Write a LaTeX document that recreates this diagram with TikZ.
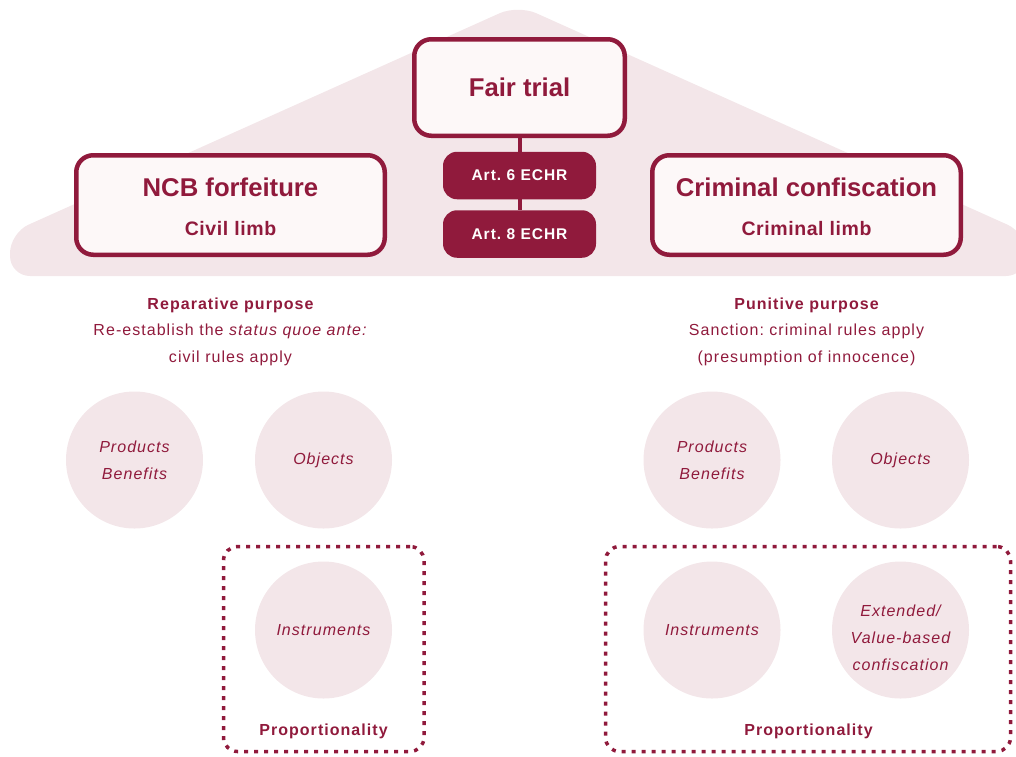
\documentclass[tikz,border=0pt]{standalone}
\usepackage{fontspec}
\setmainfont{Liberation Sans}[LetterSpace=6.5]
\newfontfamily\headfont{Liberation Sans}
\newfontfamily\limbfont{Liberation Sans}[LetterSpace=3]
\usetikzlibrary{positioning}
\frenchspacing

\definecolor{wine}{HTML}{901A3C}
\definecolor{blush}{HTML}{F3E6E9}
\definecolor{paper}{HTML}{FDF8F8}

\begin{document}
\begin{tikzpicture}[
    x=1pt,
    y=-1pt,
    limbbox/.style={
        draw=wine,
        line width=4.5pt,
        fill=paper,
        rounded corners=17pt,
        minimum width=308.5pt,
        minimum height=99.5pt
    },
    headtxt/.style={
        text=wine,
        inner sep=0pt,
        anchor=base,
        font=\headfont\bfseries\fontsize{25.7}{30}\selectfont
    },
    limbtxt/.style={
        text=wine,
        inner sep=0pt,
        anchor=base,
        font=\limbfont\bfseries\fontsize{19.5}{24}\selectfont
    },
    artbox/.style={
        fill=wine,
        rounded corners=14pt,
        minimum width=153pt,
        minimum height=47.5pt,
        text=white,
        font=\bfseries\fontsize{15.5}{18}\selectfont
    },
    purpose/.style={
        align=center,
        text=wine,
        inner sep=0pt,
        font=\fontsize{16}{26.5}\selectfont
    },
    orb/.style={
        circle,
        fill=blush,
        minimum size=137pt,
        inner sep=0pt,
        align=center,
        text=wine,
        font=\itshape\fontsize{16}{27}\selectfont
    },
    propbox/.style={
        draw=wine,
        line width=3.5pt,
        dash pattern=on 4pt off 6pt,
        rounded corners=14pt
    },
    proptxt/.style={
        text=wine,
        inner sep=0pt,
        font=\bfseries\fontsize{16}{20}\selectfont
    },
    link/.style={draw=wine, line width=4pt}
]
    \useasboundingbox (0,0) rectangle (1016,756);

    % Roof
    \fill[blush, rounded corners=20pt]
        (518,5) -- (1026,233) -- (1026,276) -- (10,276) -- (10,233) -- cycle;

    % Top of the roof
    \node[limbbox, minimum width=210.5pt, minimum height=96.5pt,
          font=\headfont\bfseries\fontsize{25.7}{30}\selectfont, text=wine]
        (fair) at (519.5,87.5) {Fair trial};
    \node[artbox] (art6) at (519.5,175.5) {Art. 6 ECHR};
    \node[artbox] (art8) at (519.5,234) {Art. 8 ECHR};

    % Civil limb
    \node[limbbox] (ncb) at (230.5,205) {};
    \node[headtxt] (ncbtitle) at (230.5,196) {NCB forfeiture};
    \node[limbtxt] (ncbsub) at (230.5,235) {Civil limb};

    % Criminal limb
    \node[limbbox] (crim) at (806.5,205) {};
    \node[headtxt] (crimtitle) at (806.5,196) {Criminal confiscation};
    \node[limbtxt] (crimsub) at (806.5,235) {Criminal limb};

    % Connections
    \draw[link] (fair.south) -- (art6.north);
    \draw[link] (art6.south) -- (art8.north);

    % Purposes
    \node[purpose] (reparative) at (230.5,331.5)
        {\bfseries Reparative purpose\\
         Re-establish the \textit{status quoe ante:}\\
         civil rules apply};
    \node[purpose] (punitive) at (806.5,331.5)
        {\bfseries Punitive purpose\\
         Sanction: criminal rules apply\\
         (presumption of innocence)};

    % Proportionality frames
    \node[propbox, minimum width=200.5pt, minimum height=205pt] (propL) at (323.75,649) {};
    \node[propbox, minimum width=405pt, minimum height=205pt] (propR) at (808,649) {};

    % Civil side assets
    \node[orb] (prodL) at (134.5,460) {Products\\Benefits};
    \node[orb] (objL) at (323.5,460) {Objects};
    \node[orb] (instrL) at (323.5,630) {Instruments};

    % Criminal side assets
    \node[orb] (prodR) at (712,460) {Products\\Benefits};
    \node[orb] (objR) at (900.5,460) {Objects};
    \node[orb] (instrR) at (712,630) {Instruments};
    \node[orb] (extd) at (900.5,630) {};
    \node[orb, fill=none, minimum size=0pt] (extdtxt) at (900.5,637.5)
        {Extended/\\Value-based\\confiscation};

    \node[proptxt] (propLtxt) at (323.5,731) {Proportionality};
    \node[proptxt] (propRtxt) at (808.5,731) {Proportionality};
\end{tikzpicture}
\end{document}
